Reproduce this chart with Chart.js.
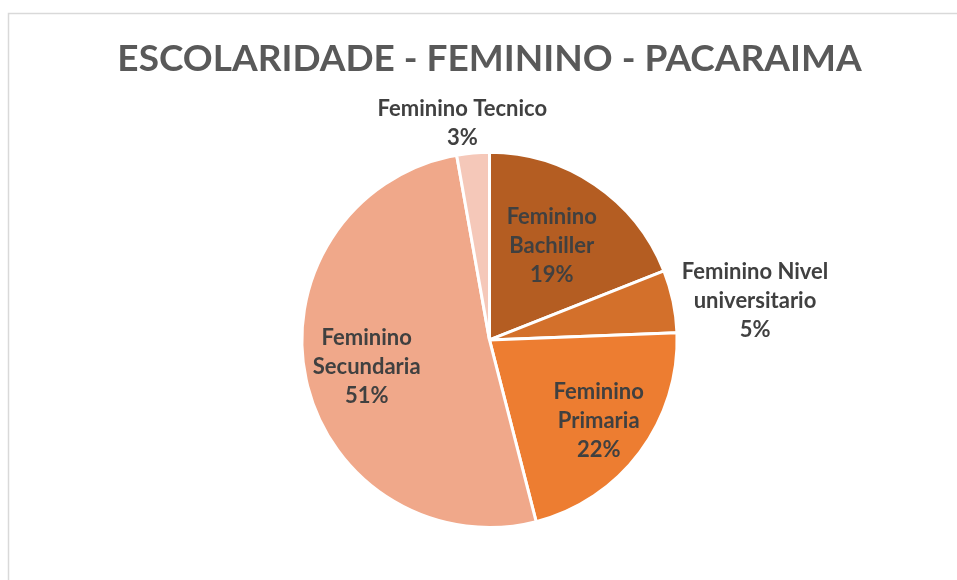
<!DOCTYPE html>
<html>
<head>
<meta charset="utf-8">
<script src="https://cdn.jsdelivr.net/npm/chart.js@4/dist/chart.umd.min.js"></script>
<style>
  html, body { margin: 0; padding: 0; background: #ffffff; }
  #wrap { position: relative; width: 957px; height: 580px; }
</style>
</head>
<body>
<div id="wrap"><canvas id="c" width="957" height="580"></canvas></div>
<script>
// ---- data ----
const titleText = 'ESCOLARIDADE - FEMININO - PACARAIMA';
const categories = ['Feminino Bachiller', 'Feminino Nivel universitario', 'Feminino Primaria', 'Feminino Secundaria', 'Feminino Tecnico'];
const labelLines = [['Feminino', 'Bachiller'], ['Feminino Nivel', 'universitario'], ['Feminino', 'Primaria'], ['Feminino', 'Secundaria'], ['Feminino Tecnico']];
const values = [19.0, 5.4, 21.6, 51.2, 2.8];
const colors = ['#B45D22', '#D3702B', '#ED7D31', '#F0A88A', '#F5C8B9'];

// label placement: radius factor along mid-angle plus small pixel nudge
const labelPlace = [
  { f: 0.60, dx: -1, dy: -1 },
  { f: 1.43, dx: 3, dy: 16 },
  { f: 0.726, dx: 0, dy: 0 },
  { f: 0.67, dx: 0, dy: 0 },
  { f: 1.164, dx: -8, dy: 1 }
];

const frame = {
  id: 'frame',
  beforeDraw(chart) {
    const ctx = chart.ctx;
    ctx.save();
    ctx.fillStyle = '#ffffff';
    ctx.fillRect(0, 0, chart.width, chart.height);
    ctx.strokeStyle = '#D9D9D9';
    ctx.lineWidth = 1.5;
    ctx.beginPath();
    ctx.moveTo(8.5, chart.height);
    ctx.lineTo(8.5, 13.5);
    ctx.lineTo(chart.width, 13.5);
    ctx.stroke();
    ctx.restore();
  }
};

const sliceLabels = {
  id: 'sliceLabels',
  afterDatasetsDraw(chart) {
    const ctx = chart.ctx;
    const meta = chart.getDatasetMeta(0);
    const total = values.reduce((a, b) => a + b, 0);
    ctx.save();
    ctx.font = 'bold 22px Lato';
    ctx.fillStyle = '#404040';
    ctx.textAlign = 'center';
    ctx.textBaseline = 'middle';
    const lh = 29;
    meta.data.forEach((arc, i) => {
      const p = arc.getProps(['x', 'y', 'startAngle', 'endAngle', 'outerRadius'], true);
      const mid = (p.startAngle + p.endAngle) / 2;
      const pl = labelPlace[i];
      const cx = p.x + Math.cos(mid) * p.outerRadius * pl.f + pl.dx;
      const cy = p.y + Math.sin(mid) * p.outerRadius * pl.f + pl.dy;
      const lines = labelLines[i].concat([Math.round(values[i] / total * 100) + '%']);
      const y0 = cy - (lines.length - 1) * lh / 2;
      lines.forEach((t, k) => ctx.fillText(t, cx, y0 + k * lh));
    });
    ctx.restore();
  }
};

new Chart(document.getElementById('c'), {
  type: 'pie',
  data: {
    labels: categories,
    datasets: [{
      data: values,
      backgroundColor: colors,
      borderColor: '#ffffff',
      borderWidth: 3
    }]
  },
  options: {
    responsive: false,
    animation: false,
    layout: { padding: { top: 0, bottom: 51, left: 22, right: 0 } },
    plugins: {
      legend: { display: false },
      tooltip: { enabled: false },
      title: {
        display: true,
        text: titleText,
        color: '#595959',
        font: { family: 'Lato', weight: 'bold', size: 37, lineHeight: 1.2 },
        padding: { top: 37, bottom: 69.4 }
      }
    }
  },
  plugins: [frame, sliceLabels]
});
</script>
</body>
</html>
